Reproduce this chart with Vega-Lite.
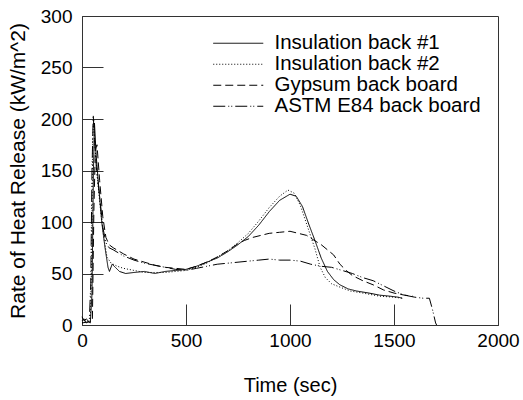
{
  "$schema": "https://vega.github.io/schema/vega-lite/v6.json",
  "width": 416,
  "height": 309,
  "autosize": "none",
  "padding": {"left": 82, "top": 16, "right": 25, "bottom": 75},
  "background": "white",
  "config": {
    "font": "Liberation Sans",
    "view": {"stroke": "#333", "strokeWidth": 1},
    "axis": {
      "domainColor": "#333",
      "tickColor": "#333",
      "labelColor": "black",
      "titleColor": "black",
      "labelFont": "Liberation Sans",
      "titleFont": "Liberation Sans",
      "labelFontSize": 19,
      "titleFontSize": 20,
      "titleFontWeight": "normal",
      "grid": false
    }
  },
  "data": {
    "values": [
      {"s": "Insulation back #1", "t": 0, "v": 4},
      {"s": "Insulation back #1", "t": 10, "v": 6},
      {"s": "Insulation back #1", "t": 20, "v": 2},
      {"s": "Insulation back #1", "t": 30, "v": 3},
      {"s": "Insulation back #1", "t": 40, "v": 2},
      {"s": "Insulation back #1", "t": 48, "v": 30},
      {"s": "Insulation back #1", "t": 55, "v": 150},
      {"s": "Insulation back #1", "t": 60, "v": 196},
      {"s": "Insulation back #1", "t": 68, "v": 165},
      {"s": "Insulation back #1", "t": 80, "v": 135},
      {"s": "Insulation back #1", "t": 95, "v": 100},
      {"s": "Insulation back #1", "t": 110, "v": 76},
      {"s": "Insulation back #1", "t": 125, "v": 56},
      {"s": "Insulation back #1", "t": 132, "v": 52},
      {"s": "Insulation back #1", "t": 145, "v": 59},
      {"s": "Insulation back #1", "t": 160, "v": 56},
      {"s": "Insulation back #1", "t": 180, "v": 52},
      {"s": "Insulation back #1", "t": 210, "v": 50},
      {"s": "Insulation back #1", "t": 250, "v": 51},
      {"s": "Insulation back #1", "t": 300, "v": 52},
      {"s": "Insulation back #1", "t": 350, "v": 50},
      {"s": "Insulation back #1", "t": 400, "v": 52},
      {"s": "Insulation back #1", "t": 450, "v": 53},
      {"s": "Insulation back #1", "t": 500, "v": 54},
      {"s": "Insulation back #1", "t": 550, "v": 57},
      {"s": "Insulation back #1", "t": 600, "v": 61},
      {"s": "Insulation back #1", "t": 650, "v": 65},
      {"s": "Insulation back #1", "t": 700, "v": 71},
      {"s": "Insulation back #1", "t": 750, "v": 78},
      {"s": "Insulation back #1", "t": 800, "v": 86},
      {"s": "Insulation back #1", "t": 850, "v": 97},
      {"s": "Insulation back #1", "t": 900, "v": 110},
      {"s": "Insulation back #1", "t": 950, "v": 121},
      {"s": "Insulation back #1", "t": 1000, "v": 127},
      {"s": "Insulation back #1", "t": 1030, "v": 125},
      {"s": "Insulation back #1", "t": 1060, "v": 115},
      {"s": "Insulation back #1", "t": 1090, "v": 98},
      {"s": "Insulation back #1", "t": 1120, "v": 82},
      {"s": "Insulation back #1", "t": 1150, "v": 65},
      {"s": "Insulation back #1", "t": 1180, "v": 52},
      {"s": "Insulation back #1", "t": 1210, "v": 44},
      {"s": "Insulation back #1", "t": 1240, "v": 39},
      {"s": "Insulation back #1", "t": 1280, "v": 35},
      {"s": "Insulation back #1", "t": 1320, "v": 33},
      {"s": "Insulation back #1", "t": 1380, "v": 31},
      {"s": "Insulation back #1", "t": 1430, "v": 29},
      {"s": "Insulation back #1", "t": 1480, "v": 28},
      {"s": "Insulation back #1", "t": 1520, "v": 27},
      {"s": "Insulation back #1", "t": 1540, "v": 26},

      {"s": "Insulation back #2", "t": 0, "v": 2},
      {"s": "Insulation back #2", "t": 20, "v": 4},
      {"s": "Insulation back #2", "t": 40, "v": 3},
      {"s": "Insulation back #2", "t": 46, "v": 60},
      {"s": "Insulation back #2", "t": 52, "v": 185},
      {"s": "Insulation back #2", "t": 56, "v": 200},
      {"s": "Insulation back #2", "t": 62, "v": 175},
      {"s": "Insulation back #2", "t": 75, "v": 140},
      {"s": "Insulation back #2", "t": 90, "v": 110},
      {"s": "Insulation back #2", "t": 105, "v": 85},
      {"s": "Insulation back #2", "t": 120, "v": 66},
      {"s": "Insulation back #2", "t": 140, "v": 60},
      {"s": "Insulation back #2", "t": 170, "v": 57},
      {"s": "Insulation back #2", "t": 200, "v": 55},
      {"s": "Insulation back #2", "t": 250, "v": 53},
      {"s": "Insulation back #2", "t": 300, "v": 51},
      {"s": "Insulation back #2", "t": 350, "v": 51},
      {"s": "Insulation back #2", "t": 400, "v": 51},
      {"s": "Insulation back #2", "t": 450, "v": 52},
      {"s": "Insulation back #2", "t": 500, "v": 53},
      {"s": "Insulation back #2", "t": 550, "v": 56},
      {"s": "Insulation back #2", "t": 600, "v": 60},
      {"s": "Insulation back #2", "t": 650, "v": 66},
      {"s": "Insulation back #2", "t": 700, "v": 72},
      {"s": "Insulation back #2", "t": 750, "v": 80},
      {"s": "Insulation back #2", "t": 800, "v": 89},
      {"s": "Insulation back #2", "t": 850, "v": 101},
      {"s": "Insulation back #2", "t": 900, "v": 114},
      {"s": "Insulation back #2", "t": 950, "v": 125},
      {"s": "Insulation back #2", "t": 990, "v": 131},
      {"s": "Insulation back #2", "t": 1020, "v": 128},
      {"s": "Insulation back #2", "t": 1050, "v": 116},
      {"s": "Insulation back #2", "t": 1080, "v": 98},
      {"s": "Insulation back #2", "t": 1100, "v": 86},
      {"s": "Insulation back #2", "t": 1120, "v": 74},
      {"s": "Insulation back #2", "t": 1145, "v": 56},
      {"s": "Insulation back #2", "t": 1170, "v": 46},
      {"s": "Insulation back #2", "t": 1200, "v": 40},
      {"s": "Insulation back #2", "t": 1250, "v": 36},
      {"s": "Insulation back #2", "t": 1290, "v": 33},
      {"s": "Insulation back #2", "t": 1350, "v": 31},
      {"s": "Insulation back #2", "t": 1430, "v": 28},
      {"s": "Insulation back #2", "t": 1500, "v": 27},
      {"s": "Insulation back #2", "t": 1540, "v": 26},

      {"s": "Gypsum back board", "t": 0, "v": 2},
      {"s": "Gypsum back board", "t": 30, "v": 3},
      {"s": "Gypsum back board", "t": 50, "v": 5},
      {"s": "Gypsum back board", "t": 57, "v": 110},
      {"s": "Gypsum back board", "t": 64, "v": 170},
      {"s": "Gypsum back board", "t": 72, "v": 175},
      {"s": "Gypsum back board", "t": 85, "v": 140},
      {"s": "Gypsum back board", "t": 100, "v": 105},
      {"s": "Gypsum back board", "t": 115, "v": 85},
      {"s": "Gypsum back board", "t": 130, "v": 78},
      {"s": "Gypsum back board", "t": 150, "v": 75},
      {"s": "Gypsum back board", "t": 200, "v": 69},
      {"s": "Gypsum back board", "t": 250, "v": 64},
      {"s": "Gypsum back board", "t": 300, "v": 61},
      {"s": "Gypsum back board", "t": 350, "v": 58},
      {"s": "Gypsum back board", "t": 400, "v": 56},
      {"s": "Gypsum back board", "t": 450, "v": 55},
      {"s": "Gypsum back board", "t": 500, "v": 54},
      {"s": "Gypsum back board", "t": 550, "v": 57},
      {"s": "Gypsum back board", "t": 600, "v": 61},
      {"s": "Gypsum back board", "t": 650, "v": 66},
      {"s": "Gypsum back board", "t": 700, "v": 72},
      {"s": "Gypsum back board", "t": 750, "v": 79},
      {"s": "Gypsum back board", "t": 780, "v": 82},
      {"s": "Gypsum back board", "t": 820, "v": 85},
      {"s": "Gypsum back board", "t": 860, "v": 87},
      {"s": "Gypsum back board", "t": 900, "v": 89},
      {"s": "Gypsum back board", "t": 950, "v": 90},
      {"s": "Gypsum back board", "t": 1000, "v": 91},
      {"s": "Gypsum back board", "t": 1040, "v": 89},
      {"s": "Gypsum back board", "t": 1080, "v": 87},
      {"s": "Gypsum back board", "t": 1110, "v": 83},
      {"s": "Gypsum back board", "t": 1150, "v": 78},
      {"s": "Gypsum back board", "t": 1180, "v": 73},
      {"s": "Gypsum back board", "t": 1210, "v": 68},
      {"s": "Gypsum back board", "t": 1240, "v": 59},
      {"s": "Gypsum back board", "t": 1270, "v": 53},
      {"s": "Gypsum back board", "t": 1300, "v": 48},
      {"s": "Gypsum back board", "t": 1350, "v": 43},
      {"s": "Gypsum back board", "t": 1400, "v": 39},
      {"s": "Gypsum back board", "t": 1450, "v": 34},
      {"s": "Gypsum back board", "t": 1500, "v": 31},
      {"s": "Gypsum back board", "t": 1550, "v": 29},
      {"s": "Gypsum back board", "t": 1590, "v": 28},

      {"s": "ASTM E84 back board", "t": 0, "v": 8},
      {"s": "ASTM E84 back board", "t": 10, "v": 4},
      {"s": "ASTM E84 back board", "t": 20, "v": 6},
      {"s": "ASTM E84 back board", "t": 35, "v": 3},
      {"s": "ASTM E84 back board", "t": 42, "v": 40},
      {"s": "ASTM E84 back board", "t": 48, "v": 150},
      {"s": "ASTM E84 back board", "t": 54, "v": 204},
      {"s": "ASTM E84 back board", "t": 60, "v": 180},
      {"s": "ASTM E84 back board", "t": 70, "v": 150},
      {"s": "ASTM E84 back board", "t": 85, "v": 125},
      {"s": "ASTM E84 back board", "t": 100, "v": 95},
      {"s": "ASTM E84 back board", "t": 115, "v": 80},
      {"s": "ASTM E84 back board", "t": 130, "v": 75},
      {"s": "ASTM E84 back board", "t": 150, "v": 73},
      {"s": "ASTM E84 back board", "t": 200, "v": 67},
      {"s": "ASTM E84 back board", "t": 250, "v": 63},
      {"s": "ASTM E84 back board", "t": 300, "v": 60},
      {"s": "ASTM E84 back board", "t": 350, "v": 58},
      {"s": "ASTM E84 back board", "t": 400, "v": 56},
      {"s": "ASTM E84 back board", "t": 450, "v": 54},
      {"s": "ASTM E84 back board", "t": 500, "v": 53},
      {"s": "ASTM E84 back board", "t": 550, "v": 55},
      {"s": "ASTM E84 back board", "t": 600, "v": 57},
      {"s": "ASTM E84 back board", "t": 650, "v": 59},
      {"s": "ASTM E84 back board", "t": 700, "v": 60},
      {"s": "ASTM E84 back board", "t": 750, "v": 61},
      {"s": "ASTM E84 back board", "t": 800, "v": 62},
      {"s": "ASTM E84 back board", "t": 850, "v": 63},
      {"s": "ASTM E84 back board", "t": 900, "v": 64},
      {"s": "ASTM E84 back board", "t": 950, "v": 63},
      {"s": "ASTM E84 back board", "t": 1000, "v": 63},
      {"s": "ASTM E84 back board", "t": 1050, "v": 62},
      {"s": "ASTM E84 back board", "t": 1100, "v": 59},
      {"s": "ASTM E84 back board", "t": 1150, "v": 57},
      {"s": "ASTM E84 back board", "t": 1200, "v": 56},
      {"s": "ASTM E84 back board", "t": 1250, "v": 53},
      {"s": "ASTM E84 back board", "t": 1300, "v": 50},
      {"s": "ASTM E84 back board", "t": 1350, "v": 46},
      {"s": "ASTM E84 back board", "t": 1400, "v": 43},
      {"s": "ASTM E84 back board", "t": 1450, "v": 38},
      {"s": "ASTM E84 back board", "t": 1500, "v": 33},
      {"s": "ASTM E84 back board", "t": 1550, "v": 29},
      {"s": "ASTM E84 back board", "t": 1600, "v": 27},
      {"s": "ASTM E84 back board", "t": 1640, "v": 26},
      {"s": "ASTM E84 back board", "t": 1670, "v": 26},
      {"s": "ASTM E84 back board", "t": 1685, "v": 15},
      {"s": "ASTM E84 back board", "t": 1700, "v": 2},
      {"s": "ASTM E84 back board", "t": 1705, "v": 0}
    ]
  },
  "mark": {"type": "line", "color": "black", "strokeWidth": 1},
  "encoding": {
    "x": {
      "field": "t",
      "type": "quantitative",
      "title": "Time (sec)",
      "scale": {"domain": [0, 2000], "nice": false},
      "axis": {"values": [0, 500, 1000, 1500, 2000], "format": "d", "tickSize": -21, "labelPadding": 27, "titlePadding": 25, "labelFlush": false}
    },
    "y": {
      "field": "v",
      "type": "quantitative",
      "title": "Rate of Heat Release (kW/m^2)",
      "scale": {"domain": [0, 300], "nice": false},
      "axis": {"values": [0, 50, 100, 150, 200, 250, 300], "format": "d", "tickSize": -21, "labelPadding": 31, "titlePadding": 12, "titleFontSize": 21, "labelFlush": false}
    },
    "strokeDash": {
      "field": "s",
      "type": "nominal",
      "scale": {
        "domain": ["Insulation back #1", "Insulation back #2", "Gypsum back board", "ASTM E84 back board"],
        "range": [[1, 0], [1, 2], [8, 4], [12, 3, 1, 2, 1, 3]]
      },
      "legend": {
        "title": null,
        "orient": "none",
        "legendX": 146,
        "legendY": 17,
        "padding": 0,
        "rowPadding": 0,
        "symbolType": "M-5,0L5,0",
        "symbolSize": 100,
        "symbolStrokeColor": "black",
        "symbolFillColor": "transparent",
        "symbolStrokeWidth": 1,
        "labelOffset": 26,
        "labelFont": "Liberation Sans",
        "labelFontSize": 20.5,
        "labelColor": "black",
        "labelLimit": 300
      }
    }
  }
}
